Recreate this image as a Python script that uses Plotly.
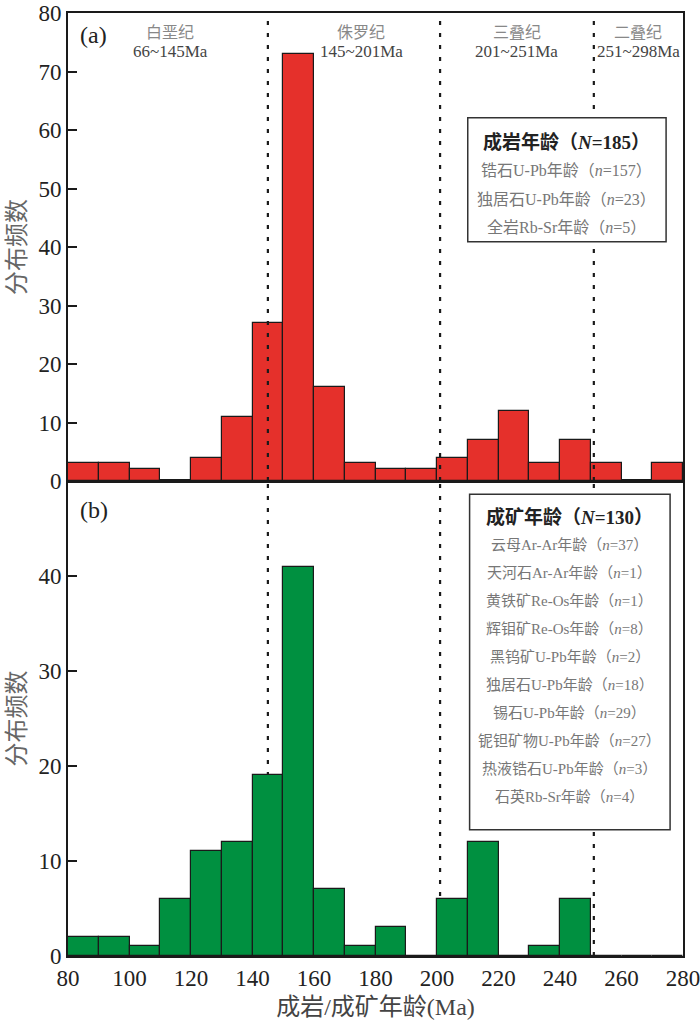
import plotly.graph_objects as go

# ---- data ----
bin_left = [80, 90, 100, 110, 120, 130, 140, 150, 160, 170,
            180, 190, 200, 210, 220, 230, 240, 250, 260, 270]
bin_width = 10
rock_counts = [3, 3, 2, 0, 4, 11, 27, 73, 16, 3, 2, 2, 4, 7, 12, 3, 7, 3, 0, 3]
ore_counts = [2, 2, 1, 6, 11, 12, 19, 41, 7, 1, 3, 0, 6, 12, 0, 1, 6, 0, 0, 0]
boundaries = [145, 201, 251]
period_names = ["白垩纪", "侏罗纪", "三叠纪", "二叠纪"]
period_ranges = ["66~145Ma", "145~201Ma", "201~251Ma", "251~298Ma"]
period_x = [113.2, 175.3, 225.9, 265.5]
x_ticks = [80, 100, 120, 140, 160, 180, 200, 220, 240, 260, 280]
rock_legend_title = "成岩年龄（<i>N</i>=185）"
rock_legend = ["锆石U-Pb年龄（<i>n</i>=157）", "独居石U-Pb年龄（<i>n</i>=23）",
               "全岩Rb-Sr年龄（<i>n</i>=5）"]
ore_legend_title = "成矿年龄（<i>N</i>=130）"
ore_legend = ["云母Ar-Ar年龄（<i>n</i>=37）", "天河石Ar-Ar年龄（<i>n</i>=1）",
              "黄铁矿Re-Os年龄（<i>n</i>=1）", "辉钼矿Re-Os年龄（<i>n</i>=8）",
              "黑钨矿U-Pb年龄（<i>n</i>=2）", "独居石U-Pb年龄（<i>n</i>=18）",
              "锡石U-Pb年龄（<i>n</i>=29）", "铌钽矿物U-Pb年龄（<i>n</i>=27）",
              "热液锆石U-Pb年龄（<i>n</i>=3）", "石英Rb-Sr年龄（<i>n</i>=4）"]

SERIF = "Liberation Serif, Noto Sans CJK SC"
CJK = "Liberation Serif, Noto Sans CJK SC"
centers = [b + bin_width / 2 for b in bin_left]

fig = go.Figure()
fig.add_trace(go.Bar(x=centers, y=rock_counts, width=bin_width, xaxis="x2", yaxis="y2",
                     marker=dict(color="#E5302B", line=dict(color="#1a1a1a", width=1.2)),
                     showlegend=False))
fig.add_trace(go.Bar(x=centers, y=ore_counts, width=bin_width, xaxis="x", yaxis="y",
                     marker=dict(color="#009040", line=dict(color="#1a1a1a", width=1.2)),
                     showlegend=False))

split = 0.5037
axis_common = dict(showline=True, linecolor="#1a1a1a", linewidth=2, mirror=True,
                   showgrid=False, zeroline=False, ticklabeloverflow="allow",
                   automargin=False)
fig.update_layout(
    width=700, height=1020,
    margin=dict(l=68, r=17, t=13, b=64),
    plot_bgcolor="white", paper_bgcolor="white",
    bargap=0,
    xaxis=dict(domain=[0, 1], range=[80, 280], anchor="y", tickvals=x_ticks,
               ticks="", tickfont=dict(family=SERIF, size=23, color="#222"),
               title=dict(text="成岩/成矿年龄(Ma)", font=dict(family=CJK, size=24, color="#444"),
                          standoff=10),
               **axis_common),
    yaxis=dict(domain=[0, split], range=[0, 50], anchor="x", tickvals=[0, 10, 20, 30, 40],
               ticks="inside", ticklen=9, tickwidth=2, tickcolor="#1a1a1a",
               tickfont=dict(family=SERIF, size=23, color="#222"),
               title=dict(text="分布频数", font=dict(family=CJK, size=24, color="#666"), standoff=6),
               **axis_common),
    xaxis2=dict(domain=[0, 1], range=[80, 280], anchor="y2", showticklabels=False,
                ticks="", **axis_common),
    yaxis2=dict(domain=[split, 1], range=[0, 80], anchor="x2",
                tickvals=[0, 10, 20, 30, 40, 50, 60, 70, 80],
                ticks="inside", ticklen=9, tickwidth=2, tickcolor="#1a1a1a",
                tickfont=dict(family=SERIF, size=23, color="#222"),
                title=dict(text="分布频数", font=dict(family=CJK, size=24, color="#666"), standoff=6),
                **axis_common),
)

# boundary dotted lines
for b in boundaries:
    fig.add_shape(type="line", xref="x2", yref="y2 domain", x0=b, x1=b, y0=0, y1=1,
                  line=dict(color="#1a1a1a", width=2.2, dash="4px,8px"), layer="above")
    fig.add_shape(type="line", xref="x", yref="y domain", x0=b, x1=b, y0=0, y1=1,
                  line=dict(color="#1a1a1a", width=2.2, dash="4px,8px"), layer="below")

# period labels
for name, rng, px in zip(period_names, period_ranges, period_x):
    fig.add_annotation(x=px, y=76.7, xref="x2", yref="y2", text=name, showarrow=False,
                       font=dict(family=CJK, size=16, color="#888"))
    fig.add_annotation(x=px, y=73.5, xref="x2", yref="y2", text=rng, showarrow=False,
                       font=dict(family=SERIF, size=17, color="#444"))

# panel labels
fig.add_annotation(x=88.4, y=76.2, xref="x2", yref="y2", text="(a)", showarrow=False,
                   font=dict(family=SERIF, size=24, color="#222"))
fig.add_annotation(x=88.4, y=47.0, xref="x", yref="y", text="(b)", showarrow=False,
                   font=dict(family=SERIF, size=24, color="#222"))

# legend boxes
fig.add_shape(type="rect", xref="x2", yref="y2", x0=210, x1=274.5, y0=40.9, y1=62.1,
              line=dict(color="#333", width=1.5), fillcolor="white", layer="above")
fig.add_annotation(x=242.2, y=58.0, xref="x2", yref="y2", text="<b>" + rock_legend_title + "</b>",
                   showarrow=False, font=dict(family=CJK, size=19, color="#222"))
for i, t in enumerate(rock_legend):
    fig.add_annotation(x=242.2, y=53.0 - i * 4.8, xref="x2", yref="y2", text=t, showarrow=False,
                       font=dict(family=CJK, size=16, color="#777"))

fig.add_shape(type="rect", xref="x", yref="y", x0=210.6, x1=275.8, y0=13.3, y1=48.6,
              line=dict(color="#333", width=1.5), fillcolor="white", layer="above")
fig.add_annotation(x=243.2, y=46.2, xref="x", yref="y", text="<b>" + ore_legend_title + "</b>",
                   showarrow=False, font=dict(family=CJK, size=19, color="#222"))
for i, t in enumerate(ore_legend):
    fig.add_annotation(x=243.2, y=43.3 - i * 2.95, xref="x", yref="y", text=t, showarrow=False,
                       font=dict(family=CJK, size=15, color="#777"))

fig.write_html("out.html")
